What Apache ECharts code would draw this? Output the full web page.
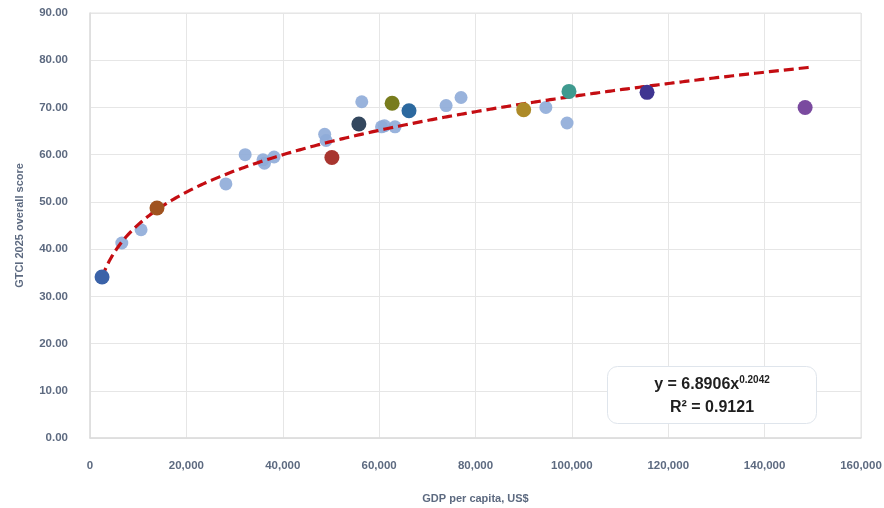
<!DOCTYPE html>
<html>
<head>
<meta charset="utf-8">
<script src="https://cdn.jsdelivr.net/npm/echarts@6/dist/echarts.min.js"></script>
<style>
  html, body { margin: 0; padding: 0; background: #ffffff; }
  #chart { width: 884px; height: 508px; }
</style>
</head>
<body>
<div id="chart"></div>
<script>
// GDP per capita (US$) and GTCI 2025 overall score, ordinary countries
const otherGdp   = [6600, 10600, 28200, 32200, 35900, 36200, 38200, 48700, 49000, 56400, 60500, 61100, 63300, 73900, 77000, 94600, 99000];
const otherScore = [41.3, 44.1, 53.8, 60.0, 58.9, 58.2, 59.5, 64.3, 63.0, 71.2, 65.9, 66.1, 65.9, 70.4, 72.1, 70.0, 66.7];

// Highlighted countries
const keyGdp   = [2500, 13900, 50200, 55800, 62700, 66200, 90000, 99400, 115600, 148400];
const keyScore = [34.1, 48.7, 59.4, 66.5, 70.9, 69.3, 69.5, 73.4, 73.2, 70.0];
const keyColors = ['#3a62a8', '#a0531f', '#a8352f', '#33475e', '#787c1d', '#2c699f', '#ad8a28', '#3f9a8f', '#3f3591', '#7a4a9f'];

// Power-law fit y = a * x^b
const fitA = 6.8906;
const fitB = 0.2042;
const fitR2 = 0.9121;
const fitRange = [2500, 150000];

// Axis ticks
const yTicks = [0, 10, 20, 30, 40, 50, 60, 70, 80, 90];
const xTicks = [0, 20000, 40000, 60000, 80000, 100000, 120000, 140000, 160000];

const fitLine = [];
for (let x = fitRange[0]; x <= fitRange[1]; x += 500) {
  fitLine.push([x, fitA * Math.pow(x, fitB)]);
}

const labelColor = '#5d6a80';
const font = '"Liberation Sans", Arial, sans-serif';

const chart = echarts.init(document.getElementById('chart'), null, { renderer: 'canvas' });
chart.setOption({
  animation: false,
  backgroundColor: '#ffffff',
  grid: {
    left: 90, right: 23, top: 13, bottom: 70,
    outerBoundsMode: 'none', containLabel: false,
    show: true, borderColor: '#e2e2e2', borderWidth: 1
  },
  xAxis: {
    type: 'value',
    min: xTicks[0], max: xTicks[xTicks.length - 1], interval: 20000,
    name: 'GDP per capita, US$',
    nameLocation: 'middle', nameGap: 55,
    nameTextStyle: { color: labelColor, fontFamily: font, fontWeight: 'bold', fontSize: 11 },
    axisLine: { show: true, lineStyle: { color: '#dcdcdc', width: 1.5 } },
    axisTick: { show: false },
    axisLabel: {
      margin: 22, color: labelColor, fontFamily: font, fontWeight: 'bold', fontSize: 11.5,
      formatter: v => v.toLocaleString('en-US')
    },
    splitLine: { show: true, lineStyle: { color: '#e6e6e6', width: 1 } }
  },
  yAxis: {
    type: 'value',
    min: yTicks[0], max: yTicks[yTicks.length - 1], interval: 10,
    name: 'GTCI 2025 overall score',
    nameLocation: 'middle', nameGap: 65, nameRotate: 90,
    nameTextStyle: { color: labelColor, fontFamily: font, fontWeight: 'bold', fontSize: 11 },
    axisLine: { show: true, lineStyle: { color: '#dcdcdc', width: 1.5 } },
    axisTick: { show: false },
    axisLabel: {
      margin: 22, color: labelColor, fontFamily: font, fontWeight: 'bold', fontSize: 11.5,
      formatter: v => v.toFixed(2)
    },
    splitLine: { show: true, lineStyle: { color: '#e6e6e6', width: 1 } }
  },
  series: [
    {
      type: 'scatter',
      data: otherGdp.map((x, i) => [x, otherScore[i]]),
      symbolSize: 13,
      itemStyle: { color: '#8eabd8', opacity: 0.9 },
      z: 2
    },
    {
      type: 'line',
      data: fitLine,
      showSymbol: false,
      smooth: false,
      lineStyle: { color: '#c40d12', width: 3.2, type: [10, 5] },
      z: 3
    },
    {
      type: 'scatter',
      data: keyGdp.map((x, i) => ({ value: [x, keyScore[i]], itemStyle: { color: keyColors[i] } })),
      symbolSize: 15,
      itemStyle: { opacity: 1 },
      z: 4
    }
  ],
  graphic: [
    {
      type: 'group',
      left: 607, top: 366, z: 100,
      children: [
        {
          type: 'rect',
          z: 100,
          shape: { x: 0, y: 0, width: 209, height: 57, r: 10 },
          style: { fill: '#ffffff', stroke: '#dfe5ec', lineWidth: 1 }
        },
        {
          type: 'text',
          z: 101,
          x: 104.5, y: 18,
          style: {
            text: '{b|y = ' + fitA.toFixed(4) + 'x}{s|' + fitB.toFixed(4) + '}',
            align: 'center', verticalAlign: 'middle',
            rich: {
              b: { fontFamily: font, fontWeight: 'bold', fontSize: 16, fill: '#1f1f1f' },
              s: { fontFamily: font, fontWeight: 'bold', fontSize: 10, fill: '#1f1f1f', verticalAlign: 'top', padding: [0, 0, 9, 0] }
            }
          }
        },
        {
          type: 'text',
          z: 101,
          x: 104.5, y: 41,
          style: {
            text: 'R² = ' + fitR2.toFixed(4),
            align: 'center', verticalAlign: 'middle',
            fontFamily: font, fontWeight: 'bold', fontSize: 16, fill: '#1f1f1f'
          }
        }
      ]
    }
  ]
});
</script>
</body>
</html>
